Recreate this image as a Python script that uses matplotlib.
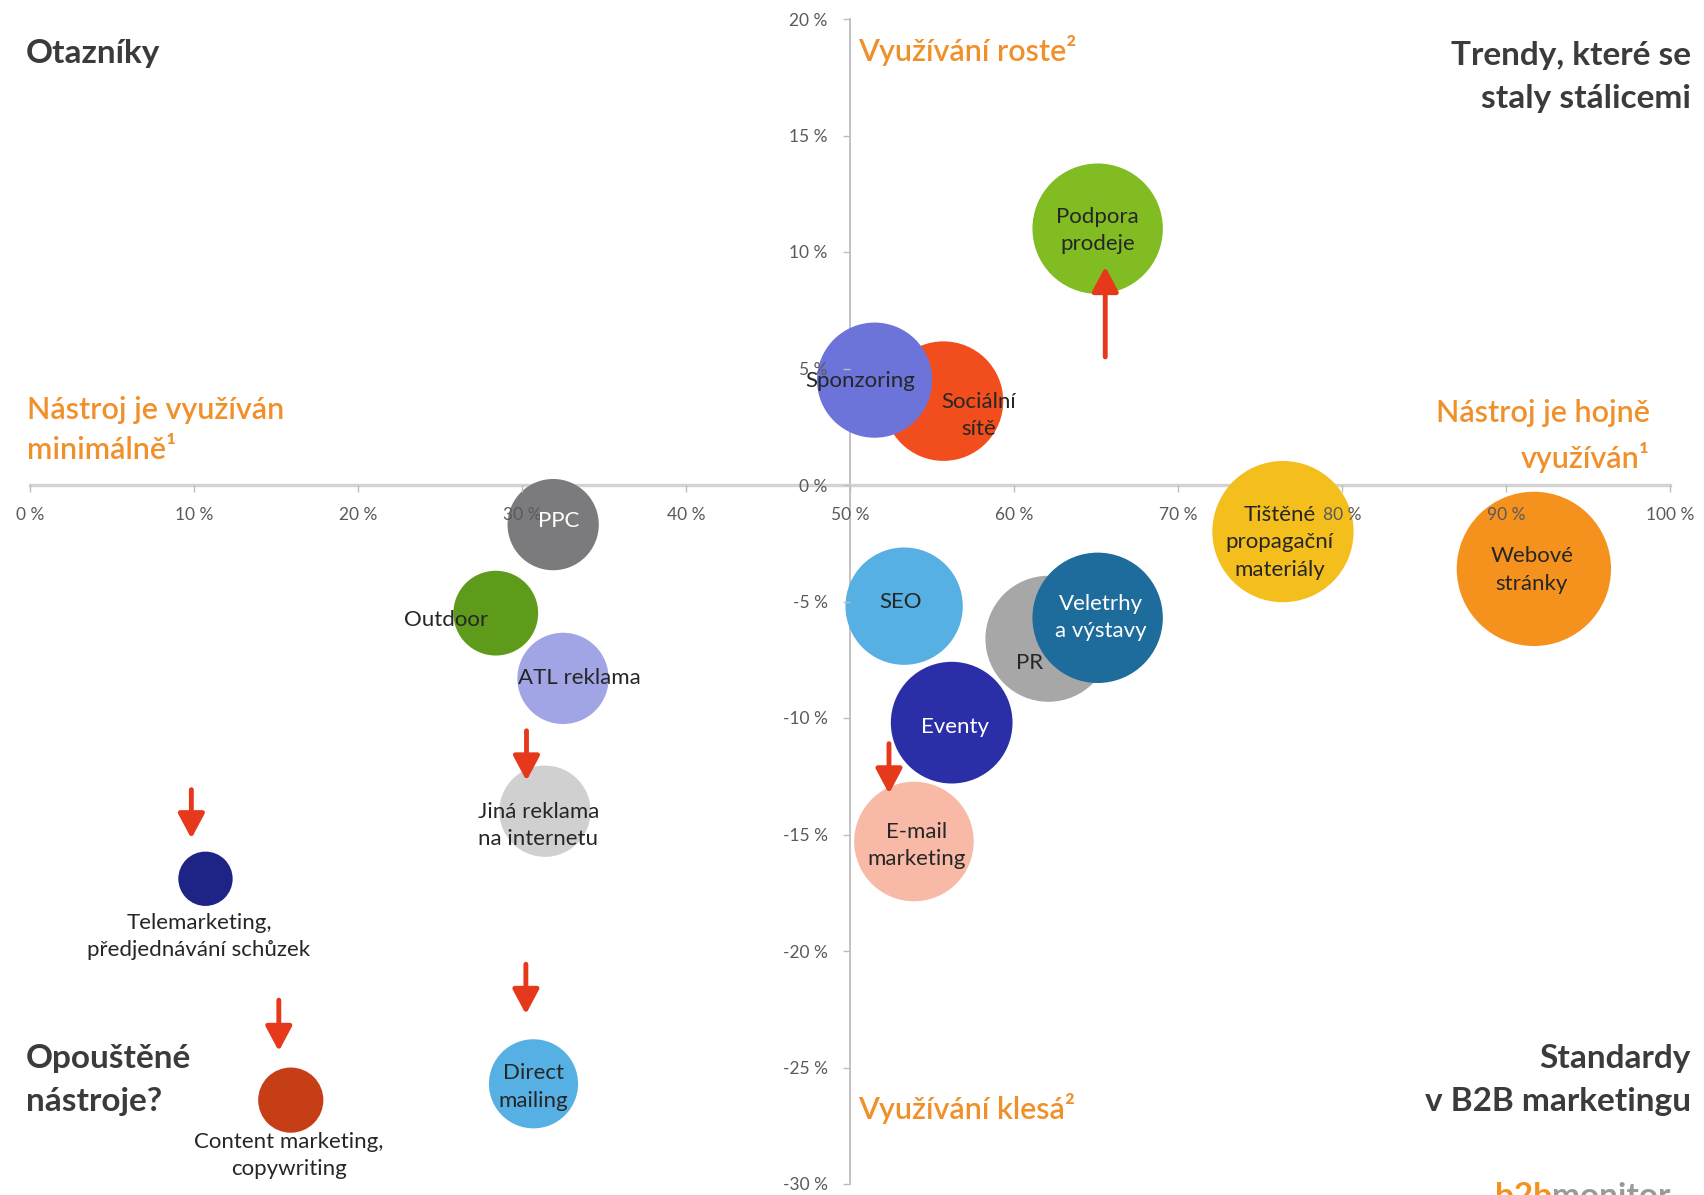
import matplotlib
matplotlib.use("Agg")
import matplotlib.pyplot as plt
from matplotlib.transforms import ScaledTranslation
from matplotlib.ticker import FuncFormatter

plt.rcParams["font.family"] = ["Lato", "DejaVu Sans"]

# ---------------- data ----------------
tools = ["Podpora prodeje", "Sociální sítě", "Sponzoring", "PPC", "Outdoor",
         "ATL reklama", "Jiná reklama na internetu",
         "Telemarketing, předjednávání schůzek",
         "Content marketing, copywriting", "Direct mailing", "SEO", "PR",
         "Veletrhy a výstavy", "Eventy", "E-mail marketing",
         "Tištěné propagační materiály", "Webové stránky"]
labels = ["Podpora\nprodeje", "Sociální\nsítě", "Sponzoring", "PPC", "Outdoor",
          "ATL reklama", "Jiná reklama\nna internetu",
          "Telemarketing,\npředjednávání schůzek",
          "Content marketing,\ncopywriting", "Direct\nmailing", "SEO", "PR",
          "Veletrhy\na výstavy", "Eventy", "E-mail\nmarketing",
          "Tištěné\npropagační\nmateriály", "Webové\nstránky"]
usage = [65.1, 55.7, 51.5, 31.9, 28.4, 32.5, 31.4, 10.7, 15.9, 30.7,
         53.3, 62.1, 65.1, 56.2, 53.9, 76.4, 91.7]           # x, %
change = [11.0, 3.6, 4.5, -1.7, -5.5, -8.3, -14.0, -16.9, -26.4, -25.7,
          -5.2, -6.6, -5.7, -10.2, -15.3, -2.0, -3.6]        # y, %
bubble = [60, 55, 53, 42, 39, 42, 42, 25, 30, 41,
          54, 58, 60, 56, 55, 65, 71]                        # bubble radius (rel.)
trend = {"Podpora prodeje": "up",
         "Telemarketing, předjednávání schůzek": "down",
         "Jiná reklama na internetu": "down",
         "E-mail marketing": "down",
         "Content marketing, copywriting": "down",
         "Direct mailing": "down"}

x_ticks = [0, 10, 20, 30, 40, 50, 60, 70, 80, 90, 100]
y_ticks = [20, 15, 10, 5, 0, -5, -10, -15, -20, -25, -30]

# ---------------- styles ----------------
colors = ["#80BC22", "#F24D1C", "#6C74D9", "#7B7B7D", "#5F9B1B",
          "#A1A5E6", "#D0D0D0", "#1E2486", "#C53E16", "#56B0E3",
          "#56B0E3", "#A7A7A7", "#1D6C9B", "#2A2FA8", "#F9B9A7",
          "#F4BE1C", "#F5921E"]
text_colors = {"PPC": "white", "Eventy": "white", "Veletrhy a výstavy": "white"}
# label offsets from bubble centre (screen px of the reference, +y up)
label_off = {"Podpora prodeje": (0, -2), "Sponzoring": (-13, -1),
             "Sociální sítě": (32, -13), "PPC": (5, 3), "Outdoor": (-46, -6),
             "ATL reklama": (15, 0), "Jiná reklama na internetu": (-6, -13),
             "Telemarketing, předjednávání schůzek": (-6, -53),
             "Content marketing, copywriting": (-2, -51),
             "Direct mailing": (0, -3), "SEO": (-3, 4), "PR": (-17, -22),
             "Veletrhy a výstavy": (3, 0), "Eventy": (3, -4),
             "E-mail marketing": (2, -4),
             "Tištěné propagační materiály": (-3, -10),
             "Webové stránky": (-2, -1)}
# arrow (dx, start_dy, end_dy) relative to bubble centre, reference px
arrow_geom = {"Podpora prodeje": (7, -118, -35),
              "Telemarketing, předjednávání schůzek": (-13, 82, 37),
              "Jiná reklama na internetu": (-17, 74, 28),
              "E-mail marketing": (-23, 90, 44),
              "Content marketing, copywriting": (-11, 92, 45),
              "Direct mailing": (-7, 110, 64)}

PX = 0.7824  # reference screen px -> points

W, H = 1704, 1195
fig = plt.figure(figsize=(W / 100, H / 100), dpi=100)
ax = fig.add_axes([30 / W, 1 - 1184 / H, 1640 / W, (1184 - 19) / H])
ax.set_xlim(0, 100)
ax.set_ylim(-30, 20)

for s in ["top", "right"]:
    ax.spines[s].set_visible(False)
ax.spines["left"].set_position(("data", 50))
ax.spines["bottom"].set_position(("data", 0))
ax.spines["left"].set_color("#BDBDBD")
ax.spines["left"].set_linewidth(1.3)
ax.spines["bottom"].set_color("#D3D3D3")
ax.spines["bottom"].set_linewidth(2.4)
for s in ["left", "bottom"]:
    ax.spines[s].set_zorder(0.5)

ax.set_xticks(x_ticks)
ax.set_yticks(y_ticks)
fmt = FuncFormatter(lambda v, p: f"{v:.0f} %")
ax.xaxis.set_major_formatter(fmt)
ax.yaxis.set_major_formatter(fmt)
ax.tick_params(axis="both", direction="out", length=5, width=1, color="#BDBDBD",
               labelsize=12.5, labelcolor="#5A5A5A", pad=11)

sizes = [(2 * r * PX) ** 2 for r in bubble]
ax.scatter(usage, change, s=sizes, c=colors, linewidths=0, zorder=1)

for name, lab, x, y in zip(tools, labels, usage, change):
    dx, dy = label_off[name]
    ax.annotate(lab, (x, y), xytext=(dx * PX, dy * PX), textcoords="offset points",
                ha="center", va="center", fontsize=16, linespacing=1.45,
                color=text_colors.get(name, "#262626"), zorder=3)

for name, direction in trend.items():
    i = tools.index(name)
    dx, sdy, edy = arrow_geom[name]
    t_start = ax.transData + ScaledTranslation(dx * PX / 72, sdy * PX / 72, fig.dpi_scale_trans)
    t_end = ax.transData + ScaledTranslation(dx * PX / 72, edy * PX / 72, fig.dpi_scale_trans)
    ax.annotate("", xy=(usage[i], change[i]), xycoords=t_end,
                xytext=(usage[i], change[i]), textcoords=t_start,
                arrowprops=dict(arrowstyle="-|>,head_length=0.75,head_width=0.4",
                                color="#E6391B", lw=3.5, mutation_scale=20,
                                shrinkA=0, shrinkB=0),
                zorder=4)

dark = "#3B3B3B"
orange = "#F0902A"
head_kw = dict(fontsize=24, fontweight="bold", color=dark, linespacing=1.6)
fig.text(26 / W, 1 - 54 / H, "Otazníky", ha="left", va="center", **head_kw)
fig.text(1691 / W, 1 - 77 / H, "Trendy, které se\nstaly stálicemi", ha="right",
         va="center", **head_kw)
fig.text(26 / W, 1 - 1080 / H, "Opouštěné\nnástroje?", ha="left", va="center",
         **head_kw)
fig.text(1691 / W, 1 - 1080 / H, "Standardy\nv B2B marketingu", ha="right",
         va="center", **head_kw)

or_kw = dict(fontsize=22, fontweight="semibold", color=orange, linespacing=1.55)
fig.text(858 / W, 1 - 51 / H, "Využívání roste²", ha="left", va="center", **or_kw)
fig.text(858 / W, 1 - 1108 / H, "Využívání klesá²", ha="left", va="center", **or_kw)
fig.text(27 / W, 1 - 430 / H, "Nástroj je využíván\nminimálně¹", ha="left",
         va="center", **or_kw)
fig.text(1650 / W, 1 - 436 / H, "Nástroj je hojně\nvyužíván¹", ha="right",
         va="center", **or_kw)

# partially visible logo at the bottom edge
t1 = fig.text(1495 / W, 1 - 1182 / H, "b2b", ha="left", va="top",
              fontsize=24, fontweight="bold", color="#F5921E")
fig.canvas.draw()
bb = t1.get_window_extent(renderer=fig.canvas.get_renderer())
fig.text(bb.x1 / W, 1 - 1182 / H, "monitor", ha="left", va="top",
         fontsize=24, fontweight="bold", color="#9A9A9A")

fig.savefig("out.png", dpi=100)
